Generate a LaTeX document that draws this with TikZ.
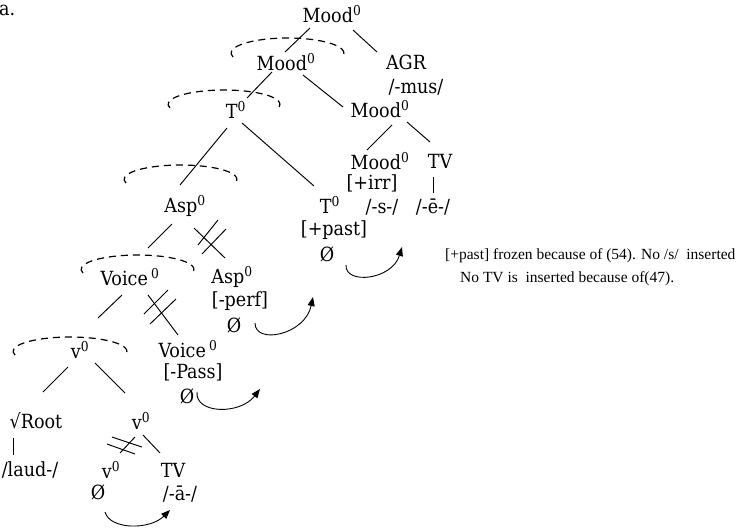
\documentclass[tikz,border=0pt]{standalone}
\usepackage{fontspec}
\setmainfont{DejaVu Serif Condensed}
\newfontfamily\notefont{Liberation Serif}
\usetikzlibrary{arrows.meta,calc}
\newcommand\zr{\textsuperscript{0}}
\begin{document}
\begin{tikzpicture}[x=1pt,y=-1pt,
  lbl/.style={inner sep=0pt,font=\fontsize{19.5}{23}\selectfont},
  note/.style={inner sep=0pt,anchor=west,font=\notefont\fontsize{15.5}{18}\selectfont},
  branch/.style={line width=0.95pt},
  hashmark/.style={line width=0.95pt},
  headarc/.style={line width=1.2pt,dash pattern=on 7pt off 5pt},
  move/.style={line width=0.9pt,-{Triangle[length=9pt,width=7pt]}}]
\useasboundingbox (0,0) rectangle (744,528);

% example label
\node[lbl,anchor=west] (ex) at (-1,10) {a.};

% upper part of the tree
\node[lbl] (m1) at (332,14) {Mood\zr};
\node[lbl] (m2) at (286,62) {Mood\zr};
\node[lbl] (agr) at (406,62) {AGR};
\node[lbl] (mus) at (416,87) {/-mus/};
\node[lbl] (t) at (236,110) {T\zr};
\node[lbl] (m3) at (380,109) {Mood\zr};
\node[lbl] (m4) at (380,161) {Mood\zr};
\node[lbl] (irr) at (372,183) {[+irr]};
\node[lbl] (s) at (382,207) {/-s-/};
\node[lbl] (tv1) at (440,161) {TV};
\node[lbl] (e) at (433,207) {/-ē-/};

% T0 with its features
\node[lbl] (tp) at (330,205) {T\zr};
\node[lbl] (past) at (334,230) {[+past]};
\node[lbl] (tz) at (327,254) {Ø};

% aspect
\node[lbl] (asp) at (185,206) {Asp\zr};
\node[lbl] (asp2) at (232,277) {Asp\zr};
\node[lbl] (perf) at (240,301) {[-perf]};
\node[lbl] (az) at (234,325) {Ø};

% voice
\node[lbl] (voice) at (130,277) {Voice\,\zr};
\node[lbl] (voice2) at (188,349) {Voice\,\zr};
\node[lbl] (pass) at (193,372) {[-Pass]};
\node[lbl] (vz) at (187,396) {Ø};

% little v and the root
\node[lbl] (v) at (80,350) {v\zr};
\node[lbl] (root) at (36,421) {√Root};
\node[lbl] (laud) at (30,470) {/laud-/};
\node[lbl] (v2) at (141,421) {v\zr};
\node[lbl] (v3) at (111,470) {v\zr};
\node[lbl] (v3z) at (98,492) {Ø};
\node[lbl] (tv2) at (173,470) {TV};
\node[lbl] (aa) at (180,494) {/-ā-/};

% remarks
\node[note] (n1) at (445,256) {[+past] frozen because of (54). No /s/\ \ inserted};
\node[note] (n2) at (460,279) {No TV is\ \ inserted because of(47).};

% branches
\draw[branch] ($(m1)+(-22,14)$) -- ($(m2)+(-1,-10)$);
\draw[branch] ($(m1)+(21,16)$) -- ($(agr)+(-29,-10)$);
\draw[branch] ($(m2)+(-14,10)$) -- ($(t)+(11,-12)$);
\draw[branch] ($(m2)+(17,13)$) -- ($(m3)+(-37,-2)$);
\draw[branch] ($(t)+(-9,18)$) -- ($(asp)+(-5,-21)$);
\draw[branch] ($(t)+(6,13)$) -- ($(tp)+(-16,-19)$);
\draw[branch] ($(m3)+(12,16)$) -- ($(m4)+(-13,-11)$);
\draw[branch] ($(m3)+(27,13)$) -- ($(tv1)+(-10,-19)$);
\draw[branch] ($(tv1)+(-7,16)$) -- ($(e)+(0,-14)$);
\draw[branch] ($(asp)+(-13,18)$) -- ($(voice)+(18,-29)$);
\draw[branch] ($(asp)+(9,22)$) -- ($(asp2)+(-7,-19)$);
\draw[branch] ($(voice)+(-8,18)$) -- ($(v)+(18,-32)$);
\draw[branch] ($(voice)+(18,18)$) -- ($(voice2)+(-10,-14)$);
\draw[branch] ($(v)+(-12,17)$) -- ($(root)+(7,-29)$);
\draw[branch] ($(v)+(15,13)$) -- ($(v2)+(-16,-28)$);
\draw[branch] ($(root)+(-23,17)$) -- ($(laud)+(-17,-15)$);
\draw[branch] ($(v2)+(-6,16)$) -- ($(v3)+(9,-17)$);
\draw[branch] ($(v2)+(2,14)$) -- ($(tv2)+(-13,-17)$);

% blocked branches
\draw[hashmark] ($(asp)+(33,14)$) -- ($(asp)+(13,39)$);
\draw[hashmark] ($(asp)+(41,23)$) -- ($(asp)+(17,48)$);
\draw[hashmark] ($(voice)+(38,13)$) -- ($(voice)+(14,37)$);
\draw[hashmark] ($(voice)+(46,22)$) -- ($(voice)+(20,47)$);
\draw[hashmark] ($(v2)+(-29,16)$) -- ($(v2)+(1,26)$);
\draw[hashmark] ($(v2)+(-34,23)$) -- ($(v2)+(-6,33)$);

% dashed arcs over the complex heads
\draw[headarc] (287.5,53.1) ++(165:56.4 and 15.1) arc[start angle=165,end angle=375,x radius=56.4,y radius=15.1];
\draw[headarc] (224,104.3) ++(165:55.9 and 14.3) arc[start angle=165,end angle=375,x radius=55.9,y radius=14.3];
\draw[headarc] (180.5,179.3) ++(165:56.4 and 14.3) arc[start angle=165,end angle=375,x radius=56.4,y radius=14.3];
\draw[headarc] (137.5,269.3) ++(165:56.4 and 14.3) arc[start angle=165,end angle=375,x radius=56.4,y radius=14.3];
\draw[headarc] (70,351.3) ++(165:56.9 and 14.3) arc[start angle=165,end angle=375,x radius=56.9,y radius=14.3];

% movement arrows
\coordinate (tipv) at (170,510);
\coordinate (tipvoice) at (260,389);
\coordinate (tipasp) at (313,297);
\coordinate (tipt) at (402,247);
\draw[move] ($(v3z)+(7,20)$) .. controls +(5,18) and (150,530) .. (tipv);
\draw[move] ($(vz)+(10,-4)$) .. controls +(-2,22) and (240,415) .. (tipvoice);
\draw[move] ($(az)+(21,-2)$) .. controls +(0,22) and (305,335) .. (tipasp);
\draw[move] ($(tz)+(19,11)$) .. controls +(-1,20) and (392,280) .. (tipt);
\end{tikzpicture}
\end{document}
